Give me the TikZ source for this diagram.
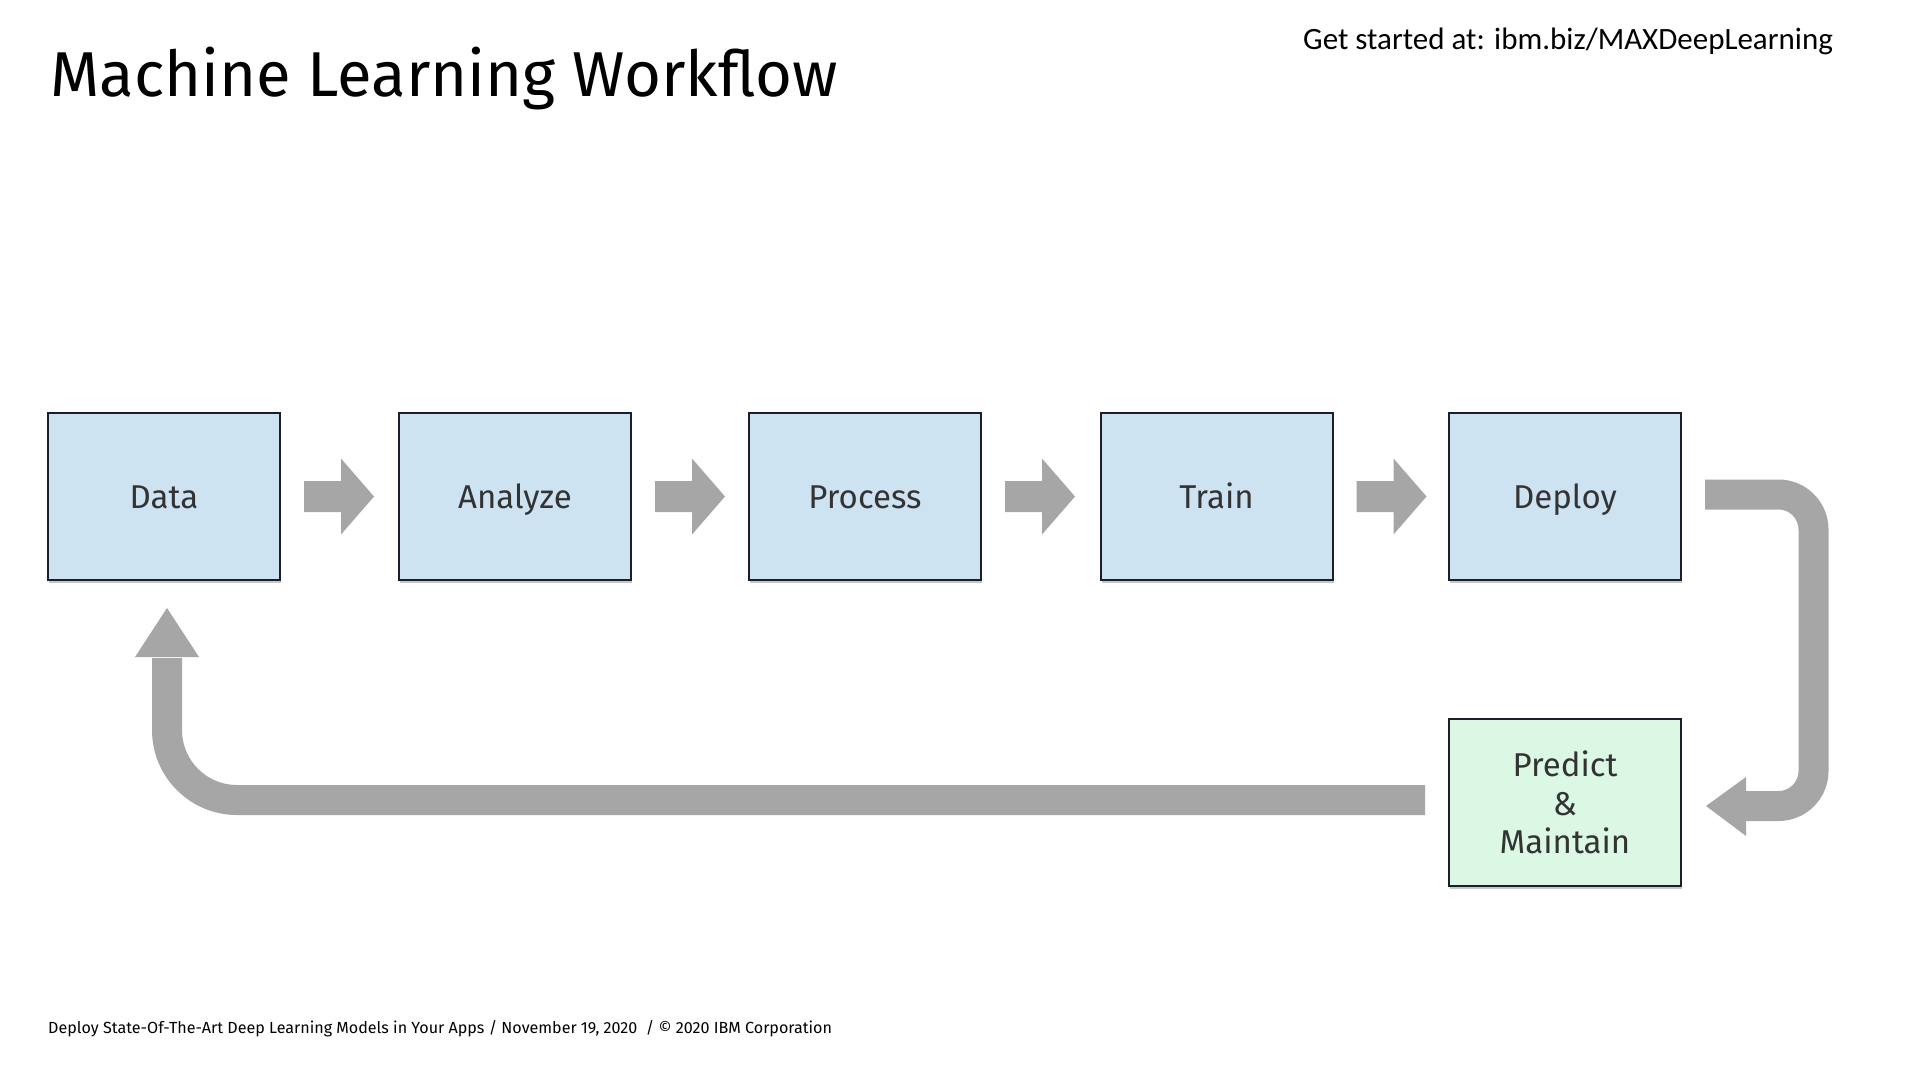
\documentclass[tikz,border=0pt]{standalone}
\usepackage{fontspec}
\setmainfont{Fira Sans}
\newfontfamily\calfont{Carlito}
\usetikzlibrary{calc,shadows}
\definecolor{boxblue}{HTML}{CDE3F1}
\definecolor{boxgreen}{HTML}{DAF8E3}
\definecolor{boxline}{HTML}{1C1F2A}
\definecolor{flowgray}{HTML}{A6A6A6}
\definecolor{labeltext}{HTML}{333333}
\begin{document}
\begin{tikzpicture}[x=1pt,y=-1pt,
  stage/.style={draw=boxline, line width=2pt, minimum width=232pt, minimum height=167pt,
    inner sep=0pt, text=labeltext, font=\fontsize{33}{38.5}\selectfont, align=center,
    drop shadow={shadow xshift=1pt, shadow yshift=-3pt, opacity=0.22, fill=black}},
  bluestage/.style={stage, fill=boxblue, text height=27pt, text depth=4pt},
  greenstage/.style={stage, fill=boxgreen},
  flowband/.style={draw=flowgray, line width=30pt, line cap=butt},
  flowhead/.style={fill=flowgray}]
\fill[white] (0,0) rectangle (1920,1080);
\useasboundingbox (0,0) rectangle (1920,1080);

\node[anchor=base west, inner sep=0pt, font=\fontsize{63.4}{76}\selectfont] (title) at (50,96) {Machine Learning Workflow};
\node[anchor=base west, inner sep=0pt, font=\calfont\fontsize{31}{37}\selectfont] (link) at (1303,49) {Get started at: ibm.biz/MAXDeepLearning};
\node[anchor=base west, inner sep=0pt, font=\fontsize{16.1}{19}\selectfont] (foot) at (48,1033) {Deploy State-Of-The-Art Deep Learning Models in Your Apps / November 19, 2020\ \ / © 2020 IBM Corporation};

\node[bluestage] (Data) at (164,496.5) {Data};
\node[bluestage] (Analyze) at (515,496.5) {Analyze};
\node[bluestage] (Process) at (865,496.5) {Process};
\node[bluestage] (Train) at (1216.5,496.5) {Train};
\node[bluestage] (Deploy) at (1565,496.5) {Deploy};
\node[greenstage] (Predict) at (1565,802.5) {Predict\\\&\\Maintain};

\foreach \s in {Data,Analyze,Process,Train}{
  \fill[flowgray] ($(\s.east)+(23,0)$) ++(0,-15.5) -- ++(37,0) -- ++(0,-22.5) -- ++(33,38)
    -- ++(-33,38) -- ++(0,-22.5) -- ++(-37,0) -- cycle;
}

% Deploy -> Predict
\coordinate (r0) at ($(Deploy.east)+(23,-2)$);
\coordinate (r1) at ($(Deploy.east)+(131.5,-2)$);
\coordinate (r2) at ($(Predict.east)+(131.5,3.5)$);
\coordinate (r3) at ($(Predict.east)+(63,3.5)$);
\draw[flowband, rounded corners=35pt] (r0) -- (r1) -- (r2) -- (r3);
\fill[flowhead] ($(Predict.east)+(64,-25.5)$) -- ($(Predict.east)+(24,3.5)$) -- ($(Predict.east)+(64,33.5)$) -- cycle;

% Predict -> Data
\coordinate (l0) at ($(Predict.west)+(-23,-2.5)$);
\coordinate (l1) at ($(Data.south)+(3,219)$);
\coordinate (l2) at ($(Data.south)+(3,77)$);
\draw[flowband, rounded corners=70pt] (l0) -- (l1) -- (l2);
\fill[flowhead] ($(Data.south)+(-29,76)$) -- ($(Data.south)+(3,27)$) -- ($(Data.south)+(35,76)$) -- cycle;
\end{tikzpicture}
\end{document}
